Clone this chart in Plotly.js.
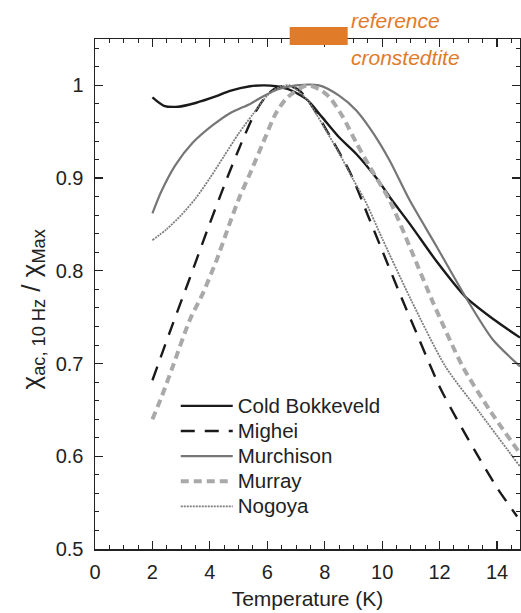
<!DOCTYPE html>
<html><head><meta charset="utf-8">
<script src="https://cdn.plot.ly/plotly-3.0.1.min.js"></script>
<style>html,body{margin:0;padding:0;background:#fff}#chart{width:521px;height:613px}</style>
</head><body><div id="chart"></div>
<script>
// Temperature (K) and normalised susceptibility per meteorite
const cbX = [2, 2.4, 2.9, 3.5, 4.2, 4.7, 5.4, 5.9, 6.3, 6.8, 7.4, 7.9, 8.5, 9.1, 9.8, 10.3, 11.0, 11.9, 12.9, 14.0, 14.8];
const cbY = [0.987, 0.978, 0.977, 0.981, 0.988, 0.994, 0.999, 1.0, 0.999, 0.995, 0.984, 0.966, 0.944, 0.926, 0.9, 0.878, 0.849, 0.81, 0.772, 0.745, 0.728];

const migX = [2, 2.7, 3.3, 3.9, 4.6, 5.1, 5.6, 6.0, 6.3, 6.7, 7.1, 7.5, 8.0, 8.9, 9.5, 10.0, 10.7, 11.1, 12.0, 12.6, 13.4, 14.0, 14.7];
const migY = [0.682, 0.742, 0.792, 0.843, 0.9, 0.938, 0.972, 0.99, 0.997, 1.0, 0.995, 0.98, 0.955, 0.905, 0.86, 0.822, 0.769, 0.74, 0.675, 0.64, 0.597, 0.566, 0.535];

const murchX = [2, 2.3, 2.8, 3.4, 4.1, 4.7, 5.4, 5.85, 6.4, 7.0, 7.8, 8.5, 9.1, 9.7, 10.26, 10.96, 11.9, 12.9, 13.85, 14.8];
const murchY = [0.862, 0.885, 0.914, 0.938, 0.957, 0.97, 0.98, 0.988, 0.996, 1.0, 1.0, 0.989, 0.973, 0.948, 0.919, 0.876, 0.826, 0.772, 0.726, 0.697];

const murrX = [2, 2.33, 2.71, 3.3, 3.76, 4.24, 4.7, 5.04, 5.4, 5.85, 6.3, 6.7, 7.37, 7.8, 8.17, 8.63, 9.1, 9.57, 10.26, 11.0, 11.77, 12.8, 13.74, 14.8];
const murrY = [0.64, 0.665, 0.697, 0.747, 0.776, 0.812, 0.852, 0.88, 0.905, 0.938, 0.97, 0.987, 1.0, 0.996, 0.987, 0.966, 0.938, 0.912, 0.876, 0.823, 0.766, 0.697, 0.65, 0.603];

const nogX = [2, 2.5, 3.0, 3.5, 4.0, 4.5, 5.0, 5.5, 6.0, 6.4, 6.8, 7.4, 7.9, 8.5, 9.0, 9.4, 10.0, 11.0, 12.2, 13.4, 14.8];
const nogY = [0.833, 0.845, 0.86, 0.878, 0.9, 0.924, 0.948, 0.969, 0.989, 0.998, 1.0, 0.984, 0.959, 0.927, 0.898, 0.876, 0.835, 0.769, 0.697, 0.647, 0.589];

const seriesNames = ["Cold Bokkeveld", "Mighei", "Murchison", "Murray", "Nogoya"];
const refRange = [6.78, 8.8];   // reference cronstedtite temperature range (K)
const refLabels = ["reference", "cronstedtite"];
const yTitle = "χ<sub>ac, 10 Hz</sub> / χ<sub>Max</sub>";
const xTitle = "Temperature (K)";

const orange = "#E07B2A";
const font = "Liberation Sans, Arial, Helvetica, sans-serif";
const ink = "#222";

function tr(x, y, name, color, width, dash) {
  return {x: x, y: y, name: '<span style="font-size:20.5px">' + name + '</span>', type: "scatter", mode: "lines",
    line: {color: color, width: width, dash: dash, shape: "spline", smoothing: 0.7},
    hoverinfo: "skip"};
}

const data = [
  tr(cbX, cbY, seriesNames[0], "#1a1a1a", 2.4, "solid"),
  tr(migX, migY, seriesNames[1], "#1a1a1a", 2.4, "14px,10px"),
  tr(murchX, murchY, seriesNames[2], "#767676", 2.2, "solid"),
  tr(murrX, murrY, seriesNames[3], "#a9a9a9", 4, "8px,5px"),
  tr(nogX, nogY, seriesNames[4], "#7d7d7d", 1.8, "2px,1px")
];

const axisCommon = {
  showline: true, linecolor: ink, linewidth: 1.5, mirror: "allticks",
  ticks: "inside", ticklen: 8, tickwidth: 1.2, tickcolor: ink,
  showgrid: false, zeroline: false,
  tickfont: {family: font, size: 20, color: ink}
};

const layout = {
  width: 521, height: 613,
  margin: {l: 95, r: 1, t: 39, b: 64},
  paper_bgcolor: "#fff", plot_bgcolor: "#fff",
  showlegend: true,
  legend: {x: 0.19, y: 0.315, xanchor: "left", yanchor: "top",
    bgcolor: "rgba(0,0,0,0)", font: {family: font, size: 17, color: ink},
    tracegroupgap: 0, itemwidth: 52},
  xaxis: Object.assign({}, axisCommon, {
    range: [0, 14.8], dtick: 2, tick0: 0, ticklabelstandoff: 4,
    minor: {dtick: 0.5, ticks: "inside", ticklen: 4, tickcolor: ink, tickwidth: 1},
    title: {text: xTitle, font: {family: font, size: 21, color: ink}, standoff: 10}
  }),
  yaxis: Object.assign({}, axisCommon, {
    range: [0.5, 1.05], dtick: 0.1, tick0: 0.5, tickformat: ".1~f", ticklabelstandoff: 6,
    minor: {dtick: 0.02, ticks: "inside", ticklen: 4, tickcolor: ink, tickwidth: 1}
  }),
  shapes: [{type: "rect", xref: "x", yref: "paper", x0: refRange[0], x1: refRange[1], y0: 0.988, y1: 1.0235,
    fillcolor: orange, line: {width: 0}, layer: "above"}],
  annotations: [
    {xref: "x", yref: "paper", x: refRange[1] + 0.05, y: 1.037, xanchor: "left", yanchor: "middle", showarrow: false,
      text: "<i>" + refLabels[0] + "</i>", font: {family: font, size: 21, color: orange}},
    {xref: "x", yref: "paper", x: refRange[1] + 0.05, y: 0.963, xanchor: "left", yanchor: "middle", showarrow: false,
      text: "<i>" + refLabels[1] + "</i>", font: {family: font, size: 21, color: orange}},
    {xref: "paper", yref: "paper", x: -0.148, y: 0.47, xanchor: "center", yanchor: "middle", showarrow: false,
      textangle: -90, text: yTitle, font: {family: font, size: 26, color: ink}}
  ]
};

Plotly.newPlot("chart", data, layout, {staticPlot: true});
</script></body></html>
